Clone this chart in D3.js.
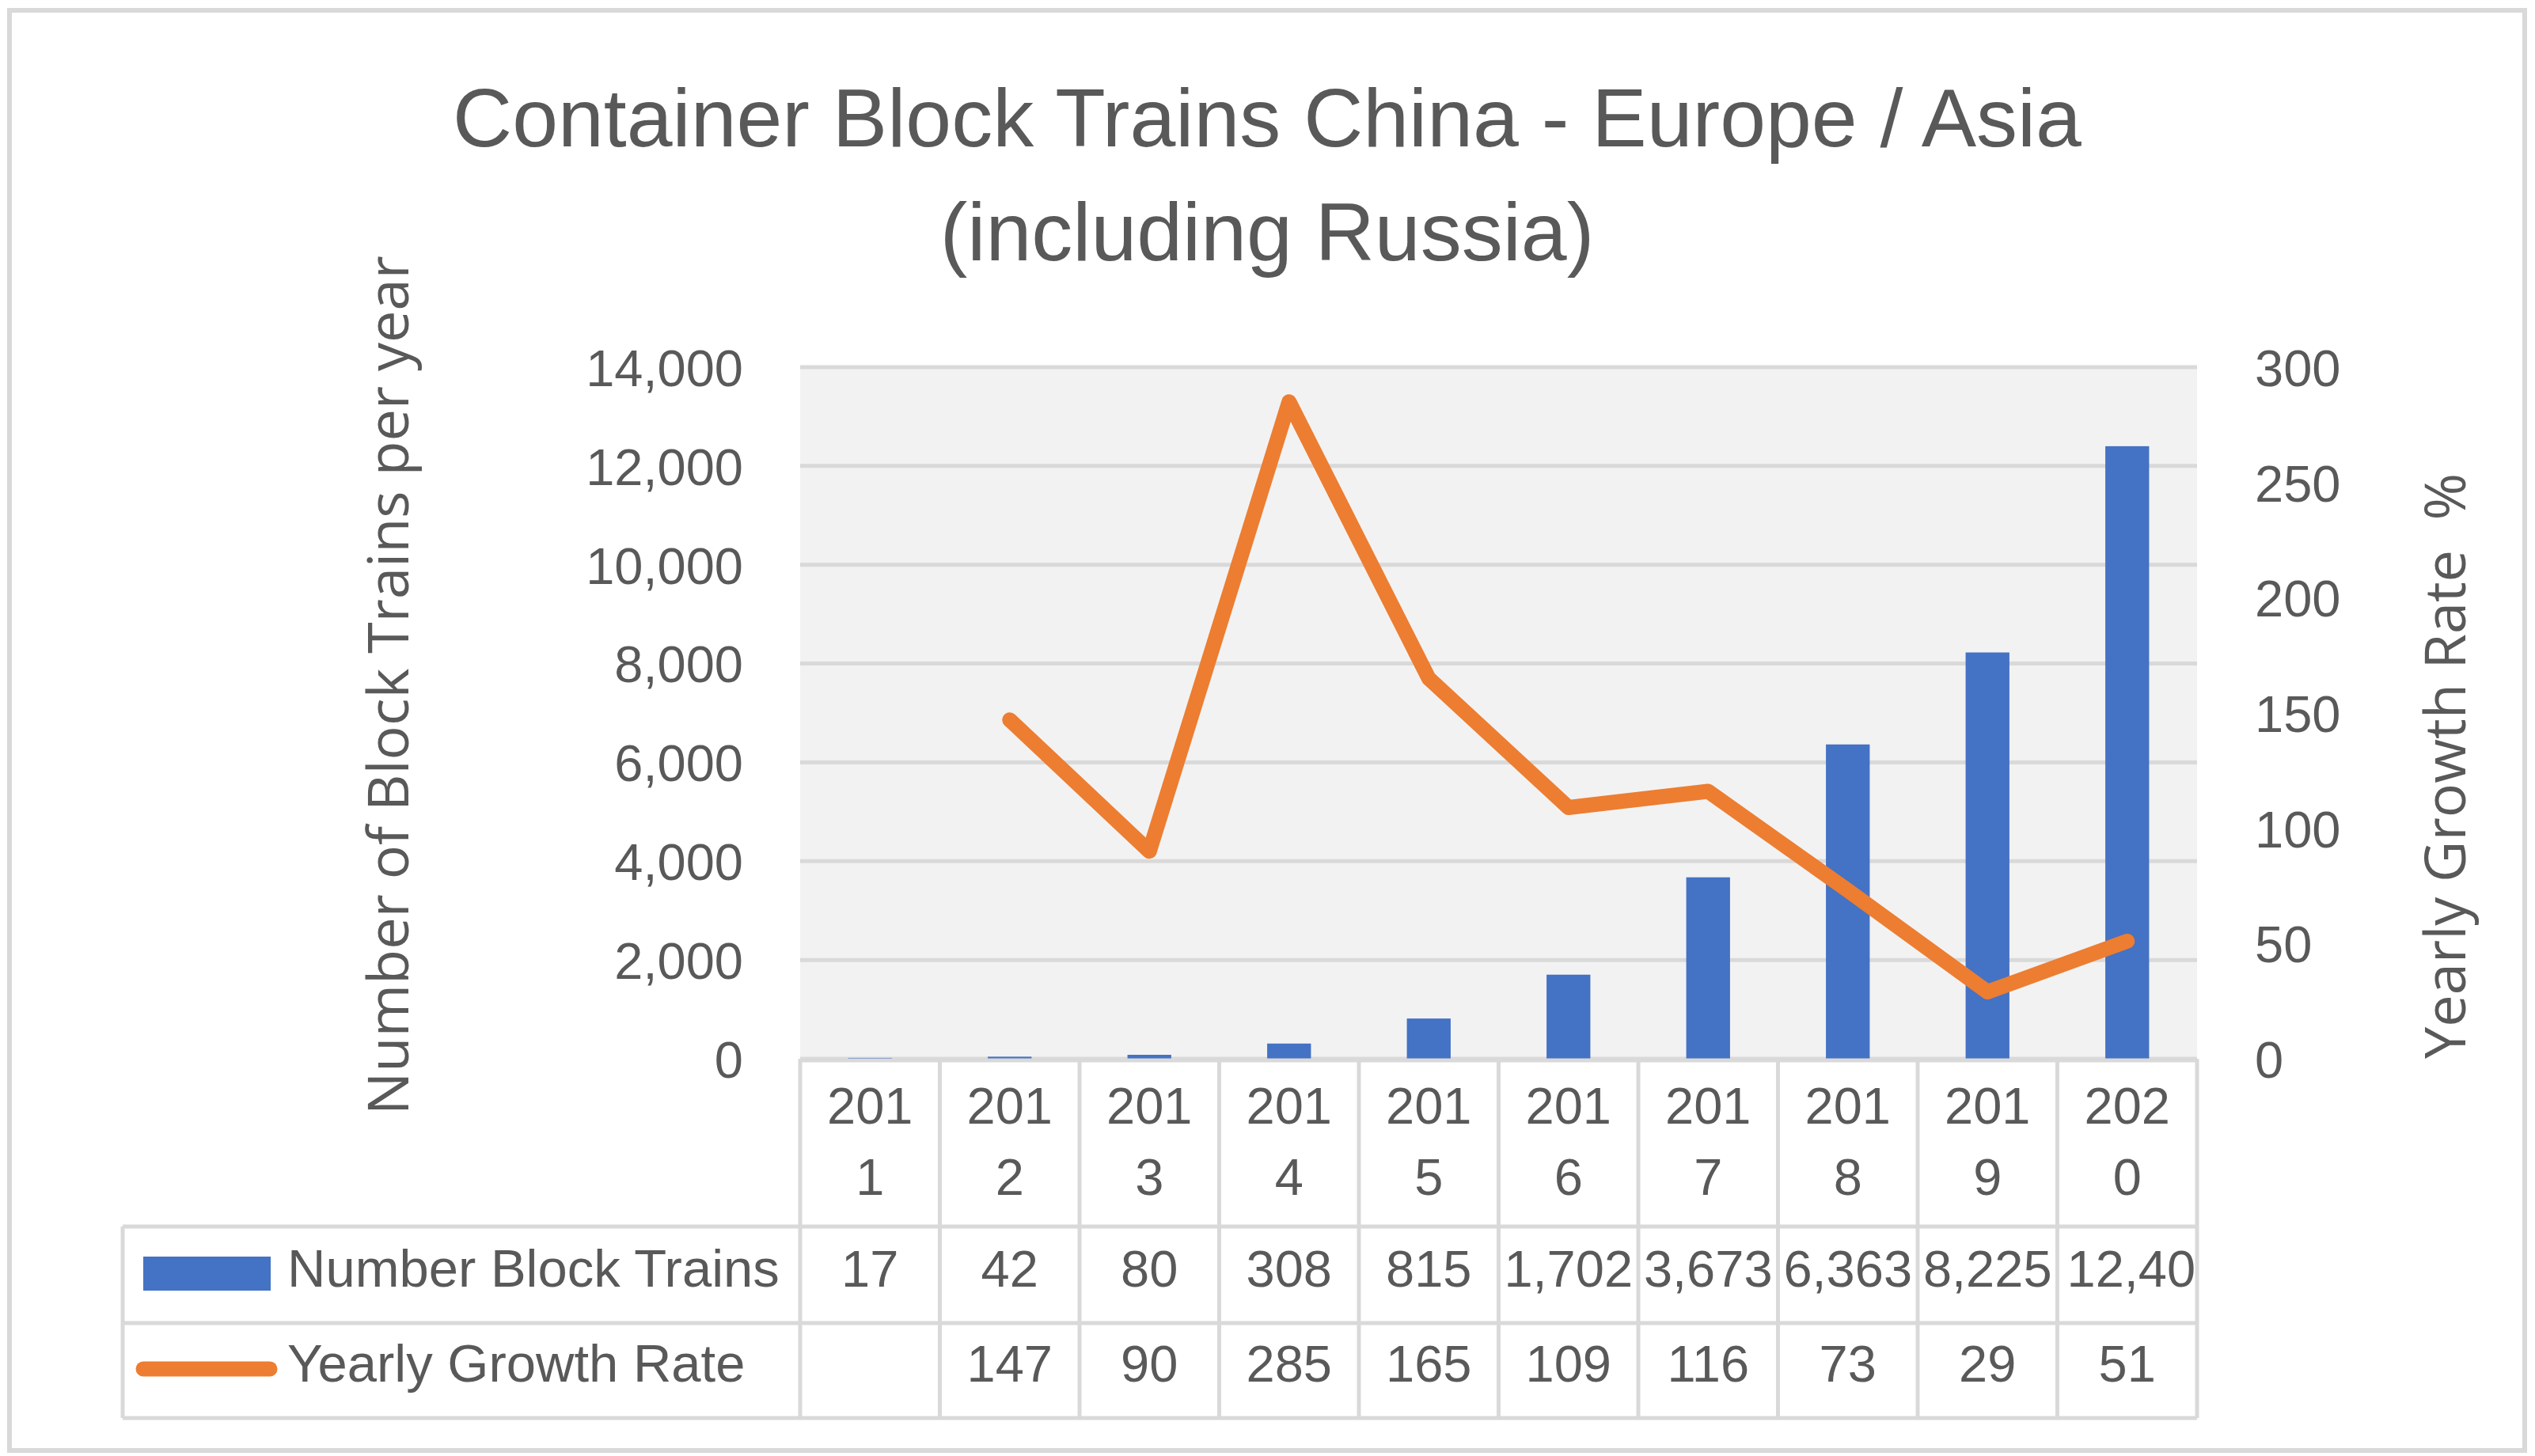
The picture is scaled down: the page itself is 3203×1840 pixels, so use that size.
<!DOCTYPE html>
<html lang="en">
<head>
    <meta charset="UTF-8">
    <title>Container Block Trains China - Europe / Asia</title>
    <script src="https://d3js.org/d3.v7.min.js"></script>
    <style>
        body { margin: 0; background: #fff; }
        text { fill: #595959; }
        .grid line { stroke: #d9d9d9; stroke-width: 5px; }
        .cell-line { stroke: #d9d9d9; stroke-width: 5px; }
    </style>
</head>
<body>
    <svg id="chart" width="3203" height="1840"></svg>

    <script>
        // data
        const years = ["2011", "2012", "2013", "2014", "2015", "2016", "2017", "2018", "2019", "2020"];
        const trains = [17, 42, 80, 308, 815, 1702, 3673, 6363, 8225, 12400];
        const growth = [null, 147, 90, 285, 165, 109, 116, 73, 29, 51];
        const leftTicks = [0, 2000, 4000, 6000, 8000, 10000, 12000, 14000];
        const rightTicks = [0, 50, 100, 150, 200, 250, 300];
        const titleLines = ["Container Block Trains China - Europe / Asia", "(including Russia)"];
        const seriesNames = ["Number Block Trains", "Yearly Growth Rate"];

        const numFont = "'Liberation Sans', Arial, sans-serif";
        const labelFont = "'Open Sans', 'Noto Sans', sans-serif";
        const blue = "#4472c4", orange = "#ed7d31";

        const svg = d3.select("#chart");

        // plot area
        const plot = { left: 1011, right: 2776, top: 464, bottom: 1338 };
        const tableLeft = 155;
        const rowBottoms = [1550, 1672, 1792];   // bottom of year row, trains row, growth row
        const rowBaselines = [1626, 1746];

        const x = d3.scaleBand().domain(years).range([plot.left, plot.right]).padding(0);
        const yL = d3.scaleLinear().domain([0, 14000]).range([plot.bottom, plot.top]);
        const yR = d3.scaleLinear().domain([0, 300]).range([plot.bottom, plot.top]);
        const barW = x.bandwidth() / (1 + 2.19);   // excel gap width 219%

        // outer frame
        svg.append("rect")
            .attr("x", 12).attr("y", 13)
            .attr("width", 3178).attr("height", 1820)
            .attr("fill", "none")
            .attr("stroke", "#d9d9d9")
            .attr("stroke-width", 6);

        // title
        svg.append("g").selectAll("text")
            .data(titleLines)
            .join("text")
            .attr("x", 1601)
            .attr("y", (d, i) => 185 + i * 144)
            .attr("text-anchor", "middle")
            .attr("font-family", numFont)
            .attr("font-size", 104)
            .text(d => d);

        // plot background + grid
        svg.append("rect")
            .attr("x", plot.left).attr("y", plot.top)
            .attr("width", plot.right - plot.left).attr("height", plot.bottom - plot.top)
            .attr("fill", "#f2f2f2");

        svg.append("g").attr("class", "grid")
            .selectAll("line")
            .data(leftTicks)
            .join("line")
            .attr("x1", plot.left).attr("x2", plot.right)
            .attr("y1", d => yL(d)).attr("y2", d => yL(d));

        // left axis labels
        const fmt = d3.format(",");
        const axL = svg.append("g")
            .attr("transform", `translate(${plot.left},0)`)
            .call(d3.axisLeft(yL).tickValues(leftTicks).tickFormat(fmt).tickSize(0).tickPadding(72));
        axL.select(".domain").remove();
        axL.selectAll("text")
            .attr("font-family", numFont).attr("font-size", 65)
            .attr("fill", "#595959").attr("dy", "0.36em");

        // right axis labels
        const axR = svg.append("g")
            .attr("transform", `translate(${plot.right},0)`)
            .call(d3.axisRight(yR).tickValues(rightTicks).tickSize(0).tickPadding(73));
        axR.select(".domain").remove();
        axR.selectAll("text")
            .attr("font-family", numFont).attr("font-size", 65)
            .attr("fill", "#595959").attr("dy", "0.36em");

        // axis titles
        svg.append("text")
            .attr("transform", "translate(516,866) rotate(-90)")
            .attr("text-anchor", "middle")
            .attr("font-family", labelFont)
            .attr("font-size", 72)
            .text("Number of Block Trains per year");

        svg.append("text")
            .attr("transform", "translate(3115,968) rotate(-90)")
            .attr("text-anchor", "middle")
            .attr("font-family", labelFont)
            .attr("font-size", 72)
            .style("white-space", "pre")
            .text("Yearly Growth Rate  %");

        // bars
        svg.append("g").selectAll("rect")
            .data(years.map((yr, i) => ({ yr, v: trains[i] })))
            .join("rect")
            .attr("x", d => x(d.yr) + (x.bandwidth() - barW) / 2)
            .attr("y", d => yL(d.v))
            .attr("width", barW)
            .attr("height", d => yL(0) - yL(d.v))
            .attr("fill", blue);

        // growth line
        const lineData = years.map((yr, i) => ({ yr, v: growth[i] }));
        svg.append("path")
            .datum(lineData)
            .attr("fill", "none")
            .attr("stroke", orange)
            .attr("stroke-width", 19)
            .attr("stroke-linejoin", "round")
            .attr("stroke-linecap", "round")
            .attr("d", d3.line()
                .defined(d => d.v != null)
                .x(d => x(d.yr) + x.bandwidth() / 2)
                .y(d => yR(d.v)));

        // data table
        const table = svg.append("g");
        const colEdges = years.map(y => x(y)).concat([plot.right]);

        // horizontal lines
        table.append("line").attr("class", "cell-line")
            .attr("x1", plot.left).attr("x2", plot.right)
            .attr("y1", plot.bottom + 2).attr("y2", plot.bottom + 2);
        table.selectAll(".hline")
            .data(rowBottoms)
            .join("line")
            .attr("class", "cell-line hline")
            .attr("x1", tableLeft).attr("x2", plot.right)
            .attr("y1", d => d).attr("y2", d => d);

        // vertical lines
        table.selectAll(".vline")
            .data(colEdges)
            .join("line")
            .attr("class", "cell-line vline")
            .attr("x1", d => d).attr("x2", d => d)
            .attr("y1", plot.bottom).attr("y2", rowBottoms[2]);
        table.append("line").attr("class", "cell-line")
            .attr("x1", tableLeft).attr("x2", tableLeft)
            .attr("y1", rowBottoms[0]).attr("y2", rowBottoms[2]);

        // year header (wrapped like the original)
        const yearText = table.selectAll(".year")
            .data(years)
            .join("text")
            .attr("class", "year")
            .attr("text-anchor", "middle")
            .attr("font-family", numFont)
            .attr("font-size", 65);
        yearText.append("tspan")
            .attr("x", d => x(d) + x.bandwidth() / 2).attr("y", 1420)
            .text(d => d.slice(0, 3));
        yearText.append("tspan")
            .attr("x", d => x(d) + x.bandwidth() / 2).attr("y", 1510)
            .text(d => d.slice(3));

        // clip paths per cell
        const defs = svg.append("defs");
        years.forEach((yr, i) => {
            defs.append("clipPath").attr("id", "clip" + i)
                .append("rect")
                .attr("x", x(yr) + 3).attr("y", rowBottoms[0])
                .attr("width", x.bandwidth() - 6).attr("height", rowBottoms[2] - rowBottoms[0]);
        });

        function cellRow(values, baseY, format) {
            table.append("g").selectAll("text")
                .data(years.map((yr, i) => ({ yr, i, v: values[i] })).filter(d => d.v != null))
                .join("text")
                .attr("clip-path", d => `url(#clip${d.i})`)
                .attr("x", d => x(d.yr) + x.bandwidth() / 2)
                .attr("y", baseY)
                .attr("text-anchor", "middle")
                .attr("font-family", numFont)
                .attr("font-size", 65)
                .text(d => format(d.v))
                .each(function (d) {
                    const w = this.getComputedTextLength();
                    if (w > x.bandwidth() - 4) {
                        d3.select(this)
                            .attr("text-anchor", "start")
                            .attr("x", x(d.yr) + 12);
                    }
                });
        }
        cellRow(trains, rowBaselines[0], fmt);
        cellRow(growth, rowBaselines[1], d => d);

        // legend keys inside the table
        table.append("rect")
            .attr("x", 181).attr("y", 1588)
            .attr("width", 161).attr("height", 43)
            .attr("fill", blue);
        table.append("line")
            .attr("x1", 181).attr("x2", 341)
            .attr("y1", 1730).attr("y2", 1730)
            .attr("stroke", orange)
            .attr("stroke-width", 19)
            .attr("stroke-linecap", "round");

        table.selectAll(".legend-label")
            .data(seriesNames)
            .join("text")
            .attr("class", "legend-label")
            .attr("x", 363)
            .attr("y", (d, i) => rowBaselines[i])
            .attr("font-family", numFont)
            .attr("font-size", 67)
            .text(d => d);
    </script>
</body>
</html>
